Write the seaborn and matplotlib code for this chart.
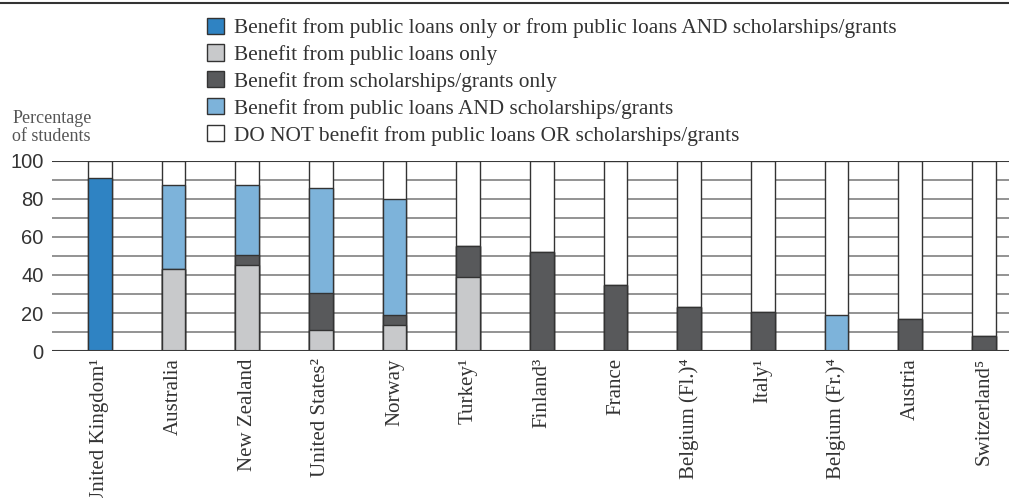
import matplotlib
matplotlib.use("Agg")
import matplotlib.pyplot as plt
from matplotlib.patches import Patch
from matplotlib.lines import Line2D
import seaborn as sns
import pandas as pd
import numpy as np

# values (% of students)
countries = ["United Kingdom¹", "Australia", "New Zealand", "United States²", "Norway",
             "Turkey¹", "Finland³", "France", "Belgium (Fl.)⁴", "Italy¹",
             "Belgium (Fr.)⁴", "Austria", "Switzerland⁵"]
loans_or_both = [91, 0, 0, 0, 0, 0, 0, 0, 0, 0, 0, 0, 0]
loans_only = [0, 43, 45, 11, 13.5, 39, 0, 0, 0, 0, 0, 0, 0]
grants_only = [0, 0, 5.5, 19.5, 5.5, 16, 52, 35, 23, 20.5, 0, 17, 8]
loans_and_grants = [0, 44.5, 37, 55, 61, 0, 0, 0, 0, 0, 19, 0, 0]

labels = ["Benefit from public loans only or from public loans AND scholarships/grants",
          "Benefit from public loans only",
          "Benefit from scholarships/grants only",
          "Benefit from public loans AND scholarships/grants",
          "DO NOT benefit from public loans OR scholarships/grants"]
colors = ["#2f83c3", "#c8c9cb", "#58595b", "#7db3da", "#ffffff"]

df = pd.DataFrame({"country": countries, "loans_or_both": loans_or_both,
                   "loans_only": loans_only, "grants_only": grants_only,
                   "loans_and_grants": loans_and_grants})
df["not_benefit"] = 100 - df[["loans_or_both", "loans_only", "grants_only", "loans_and_grants"]].sum(axis=1)

# cumulative tops, drawn tallest first so the segments stack
df["top_white"] = 100
df["top_both"] = df["loans_only"] + df["grants_only"] + df["loans_and_grants"]
df["top_grants"] = df["loans_only"] + df["grants_only"]
df["top_loans"] = df["loans_only"]
df["top_dark"] = df["loans_or_both"]

sns.set_style("white")
plt.rcParams["font.family"] = ["Liberation Serif", "DejaVu Serif"]

fig = plt.figure(figsize=(10.09, 4.98), dpi=100)
ax = fig.add_axes([0.0515, 0.295, 0.9485, 0.382])

edge = "#333333"
for col, c in [("top_white", colors[4]), ("top_both", colors[3]), ("top_grants", colors[2]),
               ("top_loans", colors[1]), ("top_dark", colors[0])]:
    sns.barplot(data=df, x="country", y=col, color=c, width=0.32, edgecolor=edge,
                linewidth=1.0, saturation=1, ax=ax, zorder=3)

ax.set_xlim(-0.65, 12.34)
ax.set_ylim(0, 100)
ax.set_yticks(np.arange(0, 101, 20))
ax.set_yticks(np.arange(10, 100, 20), minor=True)
ax.set_axisbelow(True)
ax.grid(axis="y", which="both", color="#8a8a8a", linewidth=1.3, zorder=0)
ax.axhline(0, color="#3a3a3a", linewidth=1.5, zorder=4)
ax.axhline(100, color="#3a3a3a", linewidth=1.5, zorder=1)
for s in ax.spines.values():
    s.set_visible(False)
ax.set_xlabel("")
ax.set_ylabel("")
ax.tick_params(axis="both", length=0, colors="#333333")
ax.tick_params(axis="y", pad=6)
for t in ax.get_yticklabels():
    t.set_family(["Liberation Sans", "DejaVu Sans"])
    t.set_fontsize(14.5)
ax.set_xticks(range(len(countries)))
ax.set_xticklabels(countries, rotation=90, fontsize=15, va="top", ha="center")
ax.tick_params(axis="x", pad=5)

fig.text(0.012, 0.78, "Percentage\nof students", fontsize=13, color="#555555",
         va="top", ha="left", linespacing=1.1)

handles = [Patch(facecolor=c, edgecolor=edge, linewidth=1.0) for c in colors]
fig.legend(handles, labels, loc="upper left", bbox_to_anchor=(0.197, 0.982), frameon=False,
           fontsize=15.4, handlelength=0.78, handleheight=0.78, handletextpad=0.45,
           labelspacing=0.3, borderaxespad=0, labelcolor="#333333")

fig.add_artist(Line2D([0, 1], [0.994, 0.994], color="#333333", linewidth=1.5))

fig.savefig("out.png", dpi=100)
